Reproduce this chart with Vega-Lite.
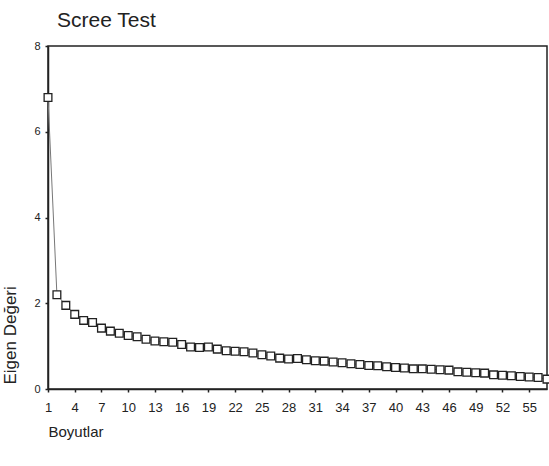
{
  "$schema": "https://vega.github.io/schema/vega-lite/v6.json",
  "width": 499,
  "height": 343,
  "autosize": {"type": "none"},
  "padding": {"left": 48, "top": 46, "right": 2, "bottom": 77},
  "background": "white",
  "config": {
    "font": "Liberation Sans",
    "view": {"stroke": "#222", "strokeWidth": 1.5},
    "axis": {"grid": false, "domainColor": "#222", "domainWidth": 1.5, "tickColor": "#222", "labelColor": "#222", "titleColor": "#222", "labelFont": "Liberation Sans", "titleFont": "Liberation Sans", "titleFontWeight": "normal"}
  },
  "title": {"text": "Scree Test", "anchor": "start", "frame": "group", "fontSize": 21, "fontWeight": "normal", "color": "#222", "font": "Liberation Sans", "offset": 9, "dx": 9},
  "data": {"values": [
    {"Boyut": 1, "Eigen": 6.8},
    {"Boyut": 2, "Eigen": 2.2},
    {"Boyut": 3, "Eigen": 1.95},
    {"Boyut": 4, "Eigen": 1.74},
    {"Boyut": 5, "Eigen": 1.6},
    {"Boyut": 6, "Eigen": 1.55},
    {"Boyut": 7, "Eigen": 1.42},
    {"Boyut": 8, "Eigen": 1.35},
    {"Boyut": 9, "Eigen": 1.3},
    {"Boyut": 10, "Eigen": 1.25},
    {"Boyut": 11, "Eigen": 1.22},
    {"Boyut": 12, "Eigen": 1.16},
    {"Boyut": 13, "Eigen": 1.12},
    {"Boyut": 14, "Eigen": 1.1},
    {"Boyut": 15, "Eigen": 1.09},
    {"Boyut": 16, "Eigen": 1.04},
    {"Boyut": 17, "Eigen": 0.98},
    {"Boyut": 18, "Eigen": 0.97},
    {"Boyut": 19, "Eigen": 0.98},
    {"Boyut": 20, "Eigen": 0.93},
    {"Boyut": 21, "Eigen": 0.89},
    {"Boyut": 22, "Eigen": 0.88},
    {"Boyut": 23, "Eigen": 0.87},
    {"Boyut": 24, "Eigen": 0.84},
    {"Boyut": 25, "Eigen": 0.8},
    {"Boyut": 26, "Eigen": 0.77},
    {"Boyut": 27, "Eigen": 0.72},
    {"Boyut": 28, "Eigen": 0.7},
    {"Boyut": 29, "Eigen": 0.71},
    {"Boyut": 30, "Eigen": 0.68},
    {"Boyut": 31, "Eigen": 0.66},
    {"Boyut": 32, "Eigen": 0.65},
    {"Boyut": 33, "Eigen": 0.63},
    {"Boyut": 34, "Eigen": 0.61},
    {"Boyut": 35, "Eigen": 0.59},
    {"Boyut": 36, "Eigen": 0.57},
    {"Boyut": 37, "Eigen": 0.55},
    {"Boyut": 38, "Eigen": 0.54},
    {"Boyut": 39, "Eigen": 0.52},
    {"Boyut": 40, "Eigen": 0.5},
    {"Boyut": 41, "Eigen": 0.49},
    {"Boyut": 42, "Eigen": 0.47},
    {"Boyut": 43, "Eigen": 0.47},
    {"Boyut": 44, "Eigen": 0.46},
    {"Boyut": 45, "Eigen": 0.45},
    {"Boyut": 46, "Eigen": 0.44},
    {"Boyut": 47, "Eigen": 0.4},
    {"Boyut": 48, "Eigen": 0.39},
    {"Boyut": 49, "Eigen": 0.38},
    {"Boyut": 50, "Eigen": 0.37},
    {"Boyut": 51, "Eigen": 0.33},
    {"Boyut": 52, "Eigen": 0.32},
    {"Boyut": 53, "Eigen": 0.31},
    {"Boyut": 54, "Eigen": 0.29},
    {"Boyut": 55, "Eigen": 0.28},
    {"Boyut": 56, "Eigen": 0.27},
    {"Boyut": 57, "Eigen": 0.23}
  ]},
  "encoding": {
    "x": {"field": "Boyut", "type": "quantitative", "scale": {"domain": [1, 57], "nice": false, "zero": false},
      "axis": {"title": "Boyutlar", "values": [1,4,7,10,13,16,19,22,25,28,31,34,37,40,43,46,49,52,55], "tickSize": 3, "tickWidth": 1.5, "labelFontSize": 13, "labelPadding": 9, "labelFlush": false, "titleFontSize": 15, "titleAnchor": "start", "titleAlign": "left", "titleBaseline": "top", "titleX": 0, "titleY": 35}},
    "y": {"field": "Eigen", "type": "quantitative", "scale": {"domain": [0, 8], "nice": false},
      "axis": {"title": "Eigen Değeri", "values": [0,2,4,6,8], "tickSize": 3, "tickWidth": 1.5, "labelFontSize": 11, "labelPadding": 5, "titleFontSize": 17, "titleAnchor": "start", "titleAlign": "left", "titleAngle": -90, "titleBaseline": "bottom", "titleX": -29, "titleY": 338}}
  },
  "layer": [
    {"mark": {"type": "line", "color": "#777", "strokeWidth": 1}},
    {"mark": {"type": "point", "shape": "square", "size": 60, "filled": true, "fill": "white", "stroke": "#222", "strokeWidth": 1.3, "opacity": 1}}
  ]
}
